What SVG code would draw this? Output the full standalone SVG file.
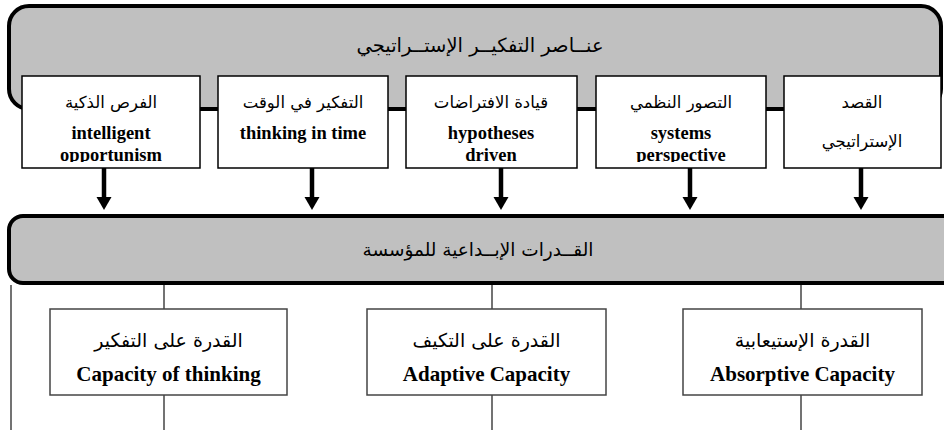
<svg xmlns="http://www.w3.org/2000/svg" width="944" height="430" viewBox="0 0 944 430">
<style>
.banner{fill:#c0c0c0;stroke:#000;stroke-width:4}
.tbox{fill:#fff;stroke:#000;stroke-width:1.5}
.bbox{fill:#fff;stroke:#444;stroke-width:1.5}
.ar{font-family:"DejaVu Sans",sans-serif;text-anchor:middle;fill:#000}
.en{font-family:"Liberation Serif","Times New Roman",serif;font-weight:bold;text-anchor:middle;fill:#000}
.arrow{stroke:#000;stroke-width:4.5;fill:none}
.head{fill:#000;stroke:none}
.thin{stroke:#444;stroke-width:1.5;fill:none}
</style>
<defs>
<clipPath id="clipTop"><rect x="0" y="0" width="944" height="162"/></clipPath>
</defs>
<rect width="944" height="430" fill="#fff"/>
<g id="banner-top">
<rect class="banner" x="9" y="6" width="932" height="103" rx="20" ry="20"/>
<text class="ar" x="480" y="52" font-size="19.5">عنــاصر التفكيــر الإستــراتيجي</text>
</g>
<g id="connectors">
<line class="arrow" x1="104" y1="168" x2="104" y2="198"/>
<path class="head" d="M96.5,197 L111.5,197 L104,210 Z"/>
<line class="arrow" x1="312" y1="168" x2="312" y2="198"/>
<path class="head" d="M304.5,197 L319.5,197 L312,210 Z"/>
<line class="arrow" x1="501" y1="168" x2="501" y2="198"/>
<path class="head" d="M493.5,197 L508.5,197 L501,210 Z"/>
<line class="arrow" x1="690" y1="168" x2="690" y2="198"/>
<path class="head" d="M682.5,197 L697.5,197 L690,210 Z"/>
<line class="arrow" x1="861" y1="168" x2="861" y2="198"/>
<path class="head" d="M853.5,197 L868.5,197 L861,210 Z"/>
<line class="thin" x1="11" y1="285" x2="11" y2="430"/>
<line class="thin" x1="164" y1="285" x2="164" y2="309"/>
<line class="thin" x1="164" y1="395" x2="164" y2="430"/>
<line class="thin" x1="492" y1="285" x2="492" y2="309"/>
<line class="thin" x1="492" y1="395" x2="492" y2="430"/>
<line class="thin" x1="801" y1="285" x2="801" y2="309"/>
<line class="thin" x1="801" y1="395" x2="801" y2="430"/>
</g>
<g id="box-opportunism">
<rect class="tbox" x="22" y="76" width="178" height="92"/>
<text class="ar" x="111" y="108" font-size="16.5">الفرص الذكية</text>
<g clip-path="url(#clipTop)">
<text class="en" x="111" y="139" font-size="18.5">intelligent</text>
<text class="en" x="111" y="161" font-size="18.5">opportunism</text>
</g>
</g>
<g id="box-time">
<rect class="tbox" x="218" y="76" width="170" height="92"/>
<text class="ar" x="303" y="108" font-size="16.5">التفكير في الوقت</text>
<text class="en" x="303" y="139" font-size="18.5">thinking in time</text>
</g>
<g id="box-hypotheses">
<rect class="tbox" x="406" y="76" width="171" height="92"/>
<text class="ar" x="491" y="108" font-size="16.5">قيادة الافتراضات</text>
<g clip-path="url(#clipTop)">
<text class="en" x="491" y="139" font-size="18.5">hypotheses</text>
<text class="en" x="491" y="161" font-size="18.5">driven</text>
</g>
</g>
<g id="box-systems">
<rect class="tbox" x="596" y="76" width="170" height="92"/>
<text class="ar" x="681" y="108" font-size="16.5">التصور النظمي</text>
<g clip-path="url(#clipTop)">
<text class="en" x="681" y="139" font-size="18.5">systems</text>
<text class="en" x="681" y="161" font-size="18.5">perspective</text>
</g>
</g>
<g id="box-intent">
<rect class="tbox" x="784" y="76" width="157" height="92"/>
<text class="ar" x="862" y="108" font-size="16.5">القصد</text>
<text class="ar" x="862" y="147" font-size="16.5">الإستراتيجي</text>
</g>
<g id="banner-capabilities">
<rect class="banner" x="9" y="216" width="960" height="67" rx="14" ry="14"/>
<text class="ar" x="478" y="256" font-size="18.5">القــدرات الإبــداعية للمؤسسة</text>
</g>
<g id="box-thinking">
<rect class="bbox" x="50" y="309" width="237" height="86"/>
<text class="ar" x="168.5" y="347" font-size="19">القدرة على التفكير</text>
<text class="en" x="168.5" y="381" font-size="21">Capacity of thinking</text>
</g>
<g id="box-adaptive">
<rect class="bbox" x="367" y="309" width="239" height="86"/>
<text class="ar" x="486.5" y="347" font-size="19">القدرة على التكيف</text>
<text class="en" x="486.5" y="381" font-size="21">Adaptive Capacity</text>
</g>
<g id="box-absorptive">
<rect class="bbox" x="683" y="309" width="239" height="86"/>
<text class="ar" x="802.5" y="347" font-size="19">القدرة الإستيعابية</text>
<text class="en" x="802.5" y="381" font-size="21">Absorptive Capacity</text>
</g>
</svg>
